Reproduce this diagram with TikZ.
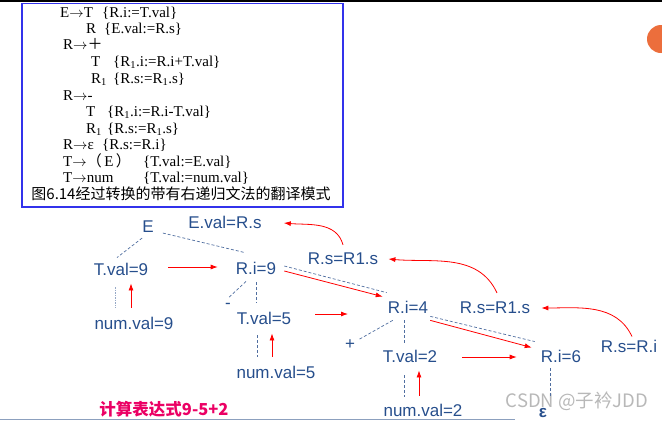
\documentclass[tikz,border=0pt]{standalone}
\usepackage{fontspec}
\setmainfont{Liberation Serif}
\newfontfamily\treefont{Liberation Sans}
\newfontfamily\cjk{Noto Sans CJK SC}
\usetikzlibrary{arrows.meta}

\definecolor{treeblue}{RGB}{38,78,140}
\definecolor{linkblue}{RGB}{80,110,160}
\definecolor{boxblue}{RGB}{50,50,235}
\definecolor{calcred}{RGB}{235,0,100}
\definecolor{badge}{RGB}{236,110,60}
\definecolor{frame}{RGB}{140,160,190}
\newcommand{\goes}{$\rightarrow$}

\tikzset{
  attr/.style={font=\treefont\fontsize{17}{20}\selectfont,text=treeblue,inner sep=1pt},
  gram/.style={font=\fontsize{15}{17}\selectfont,inner sep=0pt,anchor=base west},
  tree/.style={draw=linkblue,dash pattern=on 3pt off 2pt,line width=0.7pt},
  flow/.style={draw=red,line width=0.8pt,-{Latex[length=7pt,width=5pt]}},
  back/.style={draw=red,line width=0.8pt,-{Latex[length=7pt,width=5pt]}}
}

\begin{document}
\begin{tikzpicture}[x=1pt,y=-1pt]
\useasboundingbox (0,0) rectangle (662,421);
\fill[black] (0,0) rectangle (662,2);
\fill[badge] (661,39) circle (14pt);
\draw[frame,line width=1.5pt] (0,419.5) -- (515,419.5);

% translation scheme
\draw[boxblue,line width=1.2pt] (22,3.5) rectangle (343,207);
\foreach \yb/\xa/\hd/\xb/\ac [count=\k] in {
  17.7/60/{E\goes T}/102/{\{R.i:=T.val\}},
  33.3/86/{R}/104/{\{E.val:=R.s\}},
  49.3/63/{R\goes{\cjk ＋}}/104/{},
  66.7/91/{T}/113/{\{R\textsubscript{1}.i:=R.i+T.val\}},
  83.3/91/{R\textsubscript{1}}/113/{\{R.s:=R\textsubscript{1}.s\}},
  100/63/{R\goes-}/104/{},
  116.7/86/{T}/107/{\{R\textsubscript{1}.i:=R.i-T.val\}},
  133.3/86/{R\textsubscript{1}}/107/{\{R.s:=R\textsubscript{1}.s\}},
  149.3/63/{R\goes ε}/102/{\{R.s:=R.i\}},
  166/63/{T\goes{\cjk （}\,E\,{\cjk ）}}/143/{\{T.val:=E.val\}},
  182.3/63/{T\goes num}/143/{\{T.val:=num.val\}}}
{ \node[gram] (h\k) at (\xa,\yb) {\hd};
  \node[gram] (a\k) at (\xb,\yb) {\ac}; }
\node[font=\cjk\fontsize{15}{18}\selectfont,anchor=base,inner sep=0pt] (cap) at (181,199) {图6.14经过转换的带有右递归文法的翻译模式};

% annotated tree for 9-5+2
\node[font=\cjk\fontsize{18.5}{22}\selectfont,text=black!28,inner sep=0pt] (mark) at (577,401) {CSDN @子衿JDD};
\node[attr] (E) at (148,227) {E};
\node[attr] (ev) at (225,222) {E.val=R.s};
\node[attr] (tv9) at (121,269) {T.val=9};
\node[attr] (ri9) at (256,268) {R.i=9};
\node[attr] (rs1) at (343,259) {R.s=R1.s};
\node[attr] (nv9) at (134,323) {num.val=9};
\node[attr] (m1) at (228,306) {-};
\node[attr] (tv5) at (264,318) {T.val=5};
\node[attr] (nv5) at (276,372) {num.val=5};
\node[attr] (ri4) at (408,307) {R.i=4};
\node[attr] (rs2) at (495,308) {R.s=R1.s};
\node[attr] (p1) at (350,345) {+};
\node[attr] (tv2) at (410,356) {T.val=2};
\node[attr] (nv2) at (423,410) {num.val=2};
\node[attr] (ri6) at (561,356) {R.i=6};
\node[attr] (rs3) at (629,346) {R.s=R.i};
\node[attr,font=\treefont\bfseries\fontsize{17}{20}\selectfont] (eps) at (543,413) {ε};
\node[font=\cjk\bfseries\fontsize{16.5}{20}\selectfont,text=calcred,inner sep=0pt] (calc) at (164,409) {计算表达式9-5+2};
\coordinate (t5to) at (348,314);

\draw[tree] ([shift={(1pt,-4pt)}]E.south west) -- ([shift={(-4pt,4pt)}]tv9.north);
\draw[tree] ([shift={(8pt,1pt)}]E.south east) -- ([shift={(10pt,8pt)}]ri9.north west);
\draw[tree,draw=linkblue!60,dash pattern=on 1.5pt off 1pt] ([shift={(-6pt,-11pt)}]tv9.south) -- ([shift={(-19pt,8pt)}]nv9.north);
\draw[tree] ([shift={(-10pt,-6pt)}]ri9.south) -- ([yshift=4pt]m1.north);
\draw[tree] ([yshift=-7pt]ri9.south) -- ([shift={(-8pt,8pt)}]tv5.north);
\draw[tree] ([shift={(-7pt,-10pt)}]tv5.south) -- ([shift={(-19pt,8pt)}]nv5.north);
\draw[tree] ([shift={(7pt,2pt)}]ri9.east) -- ([yshift=7pt]ri4.north west);
\draw[tree] ([shift={(6pt,-6pt)}]ri4.south west) -- ([shift={(2pt,-1pt)}]p1.north east);
\draw[tree] ([shift={(-4pt,-6pt)}]ri4.south) -- ([shift={(-6pt,6pt)}]tv2.north);
\draw[tree] ([shift={(-6pt,-12pt)}]tv2.south) -- ([shift={(-19pt,6pt)}]nv2.north);
\draw[tree] ([shift={(1pt,-2pt)}]ri4.south east) -- ([shift={(-5pt,7pt)}]ri6.north west);
\draw[tree] ([shift={(-11pt,-5pt)}]ri6.south) -- ([shift={(7pt,10pt)}]eps.north);

\draw[flow] ([shift={(19pt,2pt)}]tv9.east) -- ([shift={(-17pt,1pt)}]ri9.west);
\draw[flow] ([shift={(-3pt,8pt)}]nv9.north) -- ([shift={(10pt,-7pt)}]tv9.south);
\draw[flow] ([shift={(23pt,4pt)}]tv5.east) -- (t5to);
\draw[flow] ([shift={(-4pt,8pt)}]nv5.north) -- ([shift={(8pt,-8pt)}]tv5.south);
\draw[flow] ([shift={(7pt,-3pt)}]ri9.east) -- ([shift={(-4pt,3pt)}]ri4.north west);
\draw[flow] ([shift={(1pt,-6pt)}]ri4.south east) -- ([shift={(-8pt,1pt)}]ri6.north west);
\draw[flow] ([shift={(24pt,-1pt)}]tv2.east) -- ([shift={(-23pt,-1pt)}]ri6.west);
\draw[flow] ([shift={(-4pt,7pt)}]nv2.north) -- ([shift={(9pt,-7pt)}]tv2.south);

\draw[back] ([shift={(3pt,2pt)}]rs3.north) to[out=115,in=0] ([xshift=10pt]rs2.east);
\draw[back] ([shift={(2pt,8pt)}]rs2.north) to[out=115,in=-5] ([xshift=9pt]rs1.east);
\draw[back] ([yshift=7pt]rs1.north) to[out=105,in=-5] ([shift={(21pt,-1pt)}]ev.east);
\end{tikzpicture}
\end{document}
